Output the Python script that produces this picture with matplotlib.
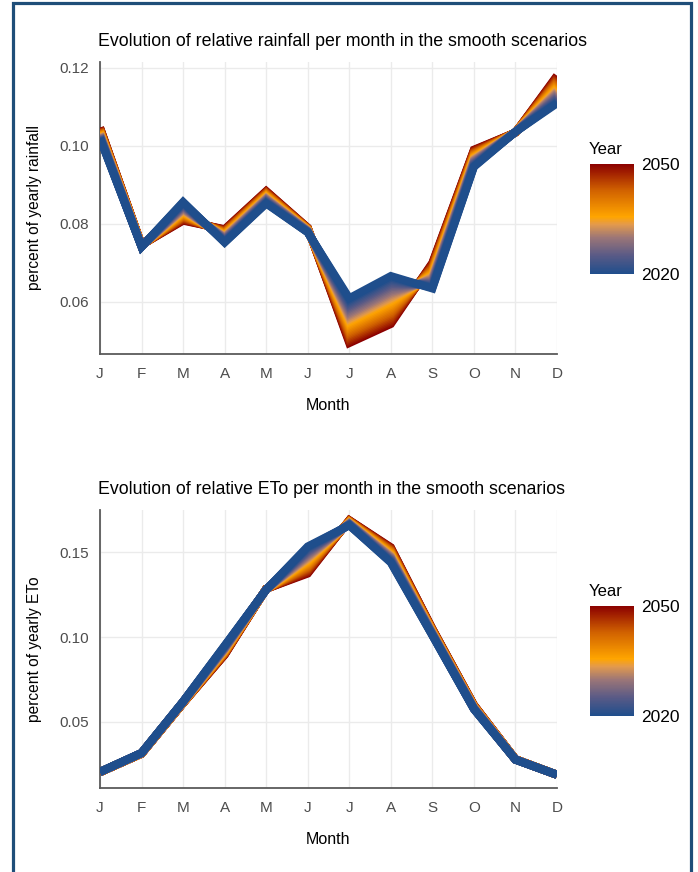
import numpy as np
import matplotlib
matplotlib.use("Agg")
import matplotlib.pyplot as plt
from matplotlib.colors import LinearSegmentedColormap, Normalize
from matplotlib.cm import ScalarMappable
from matplotlib.patches import Rectangle

plt.rcParams['font.family'] = ['Liberation Sans', 'DejaVu Sans']

# month labels
months = ['J', 'F', 'M', 'A', 'M', 'J', 'J', 'A', 'S', 'O', 'N', 'D']

# relative rainfall, start and end of the smooth scenario
rain_2020 = [0.1019, 0.0741, 0.0856, 0.0752, 0.0852, 0.0778, 0.0609, 0.0666, 0.0634, 0.0946, 0.1036, 0.1109]
rain_2050 = [0.1047, 0.0746, 0.0808, 0.0786, 0.0884, 0.0790, 0.0494, 0.0543, 0.0700, 0.0990, 0.1034, 0.1180]

# relative ETo, start and end of the smooth scenario
eto_2020 = [0.0205, 0.0317, 0.0620, 0.0950, 0.1280, 0.1535, 0.1660, 0.1440, 0.1010, 0.0575, 0.0277, 0.0188]
eto_2050 = [0.0203, 0.0312, 0.0610, 0.0895, 0.1285, 0.1375, 0.1690, 0.1530, 0.1050, 0.0600, 0.0280, 0.0188]

year_start, year_end = 2020, 2050
years = np.arange(year_start, year_end + 1)

# blue -> orange -> dark red, with the greyish mauve of a Lab-type blend in between
cmap = LinearSegmentedColormap.from_list(
    'year', [(0.0, '#1f4e8c'), (0.17, '#5a5a86'), (0.33, '#9c7677'),
             (0.45, '#e39a4c'), (0.52, '#ffa500'), (0.76, '#d16200'), (1.0, '#8b0000')])
norm = Normalize(year_start, year_end)

W, H = 698, 872
fig = plt.figure(figsize=(W / 100, H / 100), dpi=100)


def fx(px):
    return px / W


def fy(py):
    return 1 - py / H


def panel(top, bottom, v0, v1, ylim, yticks, yfmt, title, ylabel, cb_top):
    ax = fig.add_axes([fx(100), fy(bottom), fx(557) - fx(100), fy(top) - fy(bottom)])
    x = np.arange(1, 13)
    v0 = np.array(v0)
    v1 = np.array(v1)
    # draw 2050 first so 2020 ends up on top
    for yr in years[::-1]:
        w = (yr - year_start) / (year_end - year_start)
        ax.plot(x, v0 + w * (v1 - v0), color=cmap(norm(yr)), lw=5.8,
                solid_joinstyle='miter', solid_capstyle='butt', zorder=3)
    ax.set_xlim(1, 12)
    ax.set_ylim(*ylim)
    ax.set_xticks(x)
    ax.set_xticklabels(months)
    ax.set_yticks(yticks)
    ax.set_yticklabels([yfmt.format(t) for t in yticks])
    ax.tick_params(length=0, labelsize=11, labelcolor='#4d4d4d')
    ax.tick_params(axis='x', pad=9)
    ax.tick_params(axis='y', pad=8)
    ax.grid(True, color='#ebebeb', lw=1.0, zorder=0)
    ax.set_axisbelow(True)
    for s in ['top', 'right']:
        ax.spines[s].set_visible(False)
    for s in ['left', 'bottom']:
        ax.spines[s].set_color('#5a5a5a')
        ax.spines[s].set_linewidth(1.3)

    fig.text(fx(98), fy(top - 21), title, fontsize=12.8, ha='left', va='center', color='black')
    fig.text(fx(35), fy((top + bottom) / 2), ylabel, fontsize=11.2, rotation=90,
             ha='center', va='center', color='black')
    fig.text(fx(328), fy(bottom + 51), 'Month', fontsize=11.5, ha='center', va='center', color='black')

    # colour bar legend
    cax = fig.add_axes([fx(590), fy(cb_top + 110), fx(634) - fx(590), fy(cb_top) - fy(cb_top + 110)])
    cb = fig.colorbar(ScalarMappable(norm=norm, cmap=cmap), cax=cax, ticks=[year_start, year_end])
    cb.outline.set_visible(False)
    cb.ax.tick_params(length=0, labelsize=12.5, pad=5)
    fig.text(fx(589), fy(cb_top - 15), 'Year', fontsize=12, ha='left', va='center')
    return ax


panel(62, 354, rain_2020, rain_2050, (0.0466, 0.1215), [0.06, 0.08, 0.10, 0.12], '{:.2f}',
      'Evolution of relative rainfall per month in the smooth scenarios',
      'percent of yearly rainfall', 164)

panel(510, 788, eto_2020, eto_2050, (0.011, 0.175), [0.05, 0.10, 0.15], '{:.2f}',
      'Evolution of relative ETo per month in the smooth scenarios',
      'percent of yearly ETo', 606)

# frame around the figure
fig.patches.append(Rectangle((fx(12.5), fy(900)), fx(690.5) - fx(12.5), fy(3.5) - fy(900),
                             transform=fig.transFigure, fill=False, ec='#1f4e79', lw=2.3))

fig.savefig('out.png', dpi=100)
